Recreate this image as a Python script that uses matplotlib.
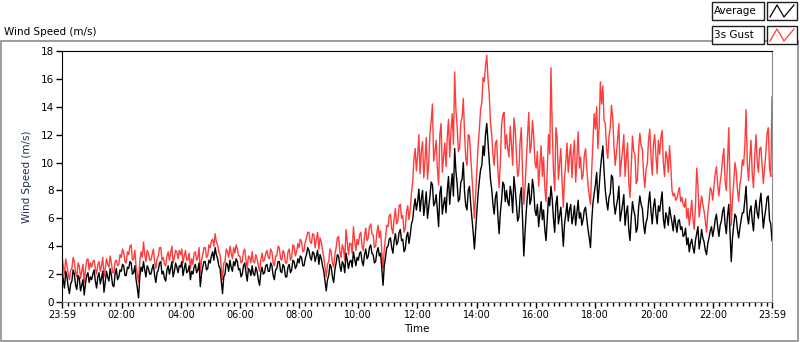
import matplotlib
matplotlib.use("Agg")
import matplotlib.pyplot as plt
import numpy as np
from matplotlib.lines import Line2D
from matplotlib.patches import Rectangle

# 2.5-minute values, one row per hour (23:59 -> 23:59)
average = [
    2.4, 1.6, 1.0, 2.2, 1.8, 1.1, 0.6, 1.3, 1.5, 2.3, 2.0, 1.2, 0.9, 1.9, 1.7, 0.8, 1.2, 1.6, 0.5, 1.3, 1.9, 2.1, 1.4, 1.8,
    1.6, 2.0, 2.3, 1.5, 1.0, 1.8, 2.1, 1.3, 1.7, 2.2, 0.7, 1.4, 2.2, 1.8, 1.5, 2.4, 1.9, 1.2, 1.1, 2.0, 2.4, 1.6, 1.8, 2.3,
    2.2, 2.7, 2.6, 1.9, 1.9, 2.5, 2.4, 2.9, 2.8, 2.0, 2.1, 2.6, 1.6, 1.0, 0.3, 1.8, 2.5, 2.2, 2.9, 2.3, 1.8, 2.6, 2.4, 2.0,
    2.0, 2.4, 2.7, 1.9, 1.4, 2.1, 2.3, 2.8, 2.9, 2.0, 2.2, 1.7, 1.5, 2.3, 2.6, 2.0, 2.4, 2.9, 1.8, 2.2, 2.8, 2.5, 2.1, 2.6,
    2.5, 2.9, 1.9, 2.4, 2.8, 2.1, 2.2, 2.6, 1.6, 2.2, 2.0, 2.5, 2.7, 2.1, 2.3, 2.8, 1.1, 2.0, 2.5, 2.9, 2.9, 2.3, 2.4, 3.0,
    2.8, 3.3, 3.6, 3.0, 3.9, 3.4, 3.1, 2.6, 2.4, 1.5, 0.6, 1.8, 2.0, 2.8, 2.7, 2.2, 3.0, 2.5, 2.2, 2.9, 2.6, 3.1, 2.9, 2.3,
    2.4, 1.8, 2.0, 2.6, 2.8, 2.1, 1.5, 2.4, 2.3, 1.9, 2.6, 2.0, 1.9, 2.5, 2.2, 1.6, 1.2, 2.1, 2.5, 2.0, 2.1, 2.6, 2.7, 2.2,
    2.2, 2.8, 2.6, 1.9, 1.6, 2.3, 2.4, 2.9, 2.9, 2.2, 2.1, 2.7, 2.5, 1.8, 1.8, 2.5, 2.7, 2.1, 2.3, 3.0, 2.9, 2.4, 2.6, 3.1,
    2.8, 3.3, 3.2, 2.6, 2.6, 3.1, 3.4, 3.9, 3.7, 3.2, 3.0, 3.6, 3.5, 2.9, 3.3, 3.7, 2.7, 3.4, 3.1, 2.6, 2.2, 1.5, 0.8, 1.6,
    1.9, 2.7, 2.5, 1.8, 1.4, 2.3, 2.8, 3.4, 3.3, 2.6, 2.2, 2.9, 2.7, 2.1, 3.5, 3.0, 2.4, 2.9, 3.0, 2.5, 3.6, 3.1, 2.6, 3.2,
    3.0, 3.5, 3.6, 2.9, 2.6, 3.4, 3.8, 3.1, 3.3, 3.9, 4.1, 3.5, 3.4, 2.8, 2.9, 3.6, 3.9, 3.3, 3.5, 2.4, 1.2, 2.6, 3.2, 3.9,
    4.0, 4.5, 4.6, 3.9, 3.5, 4.4, 4.9, 4.1, 4.3, 5.0, 5.2, 4.4, 4.5, 3.6, 3.8, 4.7, 5.0, 4.2, 4.8, 5.6, 5.9, 6.8, 7.4, 6.6,
    7.2, 8.1, 6.5, 7.4, 8.0, 6.2, 7.0, 7.9, 6.0, 6.8, 7.6, 8.6, 8.4, 6.9, 7.1, 7.7, 6.6, 5.4, 7.8, 8.3, 6.3, 7.0, 7.5, 6.4,
    8.0, 9.0, 7.0, 8.2, 9.2, 7.6, 11.0, 9.4, 8.5, 7.2, 7.4, 8.6, 8.8, 10.0, 7.9, 6.9, 6.6, 8.0, 8.3, 7.0, 6.0, 5.0, 3.8, 5.2,
    6.5, 7.8, 8.7, 9.5, 9.8, 11.2, 10.5, 12.0, 12.8, 11.5, 10.2, 8.8, 8.1, 7.0, 6.3, 7.5, 7.9, 6.2, 4.9, 6.4, 7.3, 8.6, 8.4, 7.2,
    8.0, 7.2, 6.9, 8.3, 7.7, 6.4, 9.0, 8.1, 7.0, 5.8, 6.1, 7.6, 8.2, 5.9, 3.3, 5.0, 6.5, 7.7, 8.5, 7.0, 7.4, 8.8, 8.1, 6.6,
    6.2, 7.0, 5.4, 6.3, 7.2, 5.9, 6.6, 5.2, 4.4, 6.0, 7.5, 6.9, 8.3, 7.4, 6.0, 5.0, 7.0, 7.6, 5.6, 6.2, 6.8, 5.4, 4.0, 5.6,
    6.3, 7.1, 5.8, 6.6, 7.0, 5.6, 6.1, 6.9, 5.5, 6.4, 7.3, 6.0, 6.4, 5.5, 5.9, 6.6, 6.8, 6.0, 5.2, 4.6, 3.9, 5.8, 7.1, 7.8,
    8.4, 9.3, 7.1, 8.2, 9.5, 10.4, 11.2, 9.4, 8.0, 7.2, 6.6, 7.5, 7.8, 9.1, 8.9, 7.1, 6.3, 6.9, 7.4, 8.3, 5.8, 6.4, 7.0, 7.7,
    5.5, 6.4, 6.9, 5.2, 4.4, 6.0, 7.2, 6.6, 6.2, 5.0, 5.3, 6.8, 7.6, 7.0, 6.7, 5.6, 4.9, 5.7, 6.0, 7.1, 7.9, 6.5, 5.6, 6.8,
    7.4, 6.3, 5.6, 6.9, 6.5, 7.2, 7.9, 6.0, 5.3, 6.4, 6.1, 5.5, 6.8, 6.2, 5.7, 5.1, 6.2, 5.6, 5.0, 5.8, 5.9, 5.2, 5.4, 4.7,
    4.8, 5.3, 4.1, 4.6, 3.6, 4.2, 4.5, 3.9, 3.5, 4.4, 4.9, 5.4, 3.8, 4.4, 5.2, 4.6, 4.3, 3.7, 3.4, 4.2, 4.6, 5.1, 5.4, 4.7,
    5.2, 5.9, 6.3, 5.4, 4.7, 5.5, 5.8, 6.5, 6.8, 5.6, 4.9, 6.2, 7.0, 5.0, 2.9, 4.6, 5.5, 6.3, 6.1, 5.2, 4.6, 5.3, 5.9, 6.4,
    6.4, 7.3, 8.3, 6.2, 5.6, 6.5, 6.9, 5.8, 5.1, 6.6, 7.3, 6.4, 6.0, 7.1, 7.8, 6.5, 5.3, 6.1, 6.7, 7.5, 7.6, 5.9, 5.6, 4.4,
]
gust_3s = [
    3.3, 2.6, 2.0, 3.1, 2.6, 2.0, 1.6, 2.3, 2.4, 3.2, 2.9, 2.1, 1.8, 2.8, 2.6, 1.7, 2.2, 2.7, 1.4, 2.3, 3.0, 3.1, 2.3, 2.8,
    2.5, 2.9, 3.0, 2.4, 2.0, 2.7, 2.9, 2.2, 2.6, 3.2, 1.8, 2.4, 3.1, 2.7, 2.5, 3.3, 2.8, 2.1, 2.1, 2.9, 3.0, 2.6, 2.7, 3.4,
    3.2, 3.8, 3.5, 2.9, 2.8, 3.6, 3.4, 4.0, 4.1, 3.0, 3.1, 3.7, 2.5, 2.0, 1.4, 2.9, 3.6, 3.2, 4.3, 3.4, 2.9, 3.7, 3.5, 3.0,
    3.0, 3.4, 3.8, 2.9, 2.4, 3.1, 3.3, 3.9, 3.9, 3.0, 3.2, 2.7, 2.6, 3.3, 3.6, 3.0, 3.5, 4.0, 2.8, 3.2, 3.7, 3.6, 3.1, 3.7,
    3.4, 3.8, 2.8, 3.3, 3.7, 3.0, 3.0, 3.5, 2.4, 3.1, 2.7, 3.5, 3.6, 3.0, 3.2, 3.9, 2.1, 3.0, 3.4, 3.9, 3.9, 3.2, 3.3, 4.1,
    3.9, 4.4, 4.5, 4.0, 4.9, 4.3, 4.1, 3.6, 3.4, 2.5, 1.6, 2.8, 2.9, 3.8, 3.6, 3.2, 4.0, 3.5, 3.1, 3.9, 3.5, 4.1, 3.8, 3.3,
    3.3, 2.8, 2.9, 3.6, 3.8, 3.0, 2.4, 3.3, 3.2, 2.8, 3.6, 2.9, 2.8, 3.4, 3.1, 2.6, 2.2, 3.0, 3.5, 2.9, 3.0, 3.5, 3.7, 3.2,
    3.1, 3.8, 3.6, 2.8, 2.6, 3.3, 3.3, 4.0, 3.9, 3.1, 3.0, 3.7, 3.5, 2.8, 2.8, 3.6, 3.8, 3.0, 3.2, 4.1, 4.0, 3.3, 3.6, 4.2,
    3.9, 4.5, 4.3, 3.6, 3.7, 4.3, 4.6, 5.0, 5.0, 4.3, 4.2, 4.9, 4.8, 3.9, 4.5, 5.0, 3.8, 4.6, 4.3, 3.7, 3.2, 2.5, 1.8, 2.7,
    2.9, 3.8, 3.6, 2.8, 2.5, 3.4, 3.9, 4.6, 4.7, 3.6, 3.2, 4.1, 3.8, 3.0, 5.2, 4.3, 3.4, 4.2, 4.2, 3.5, 5.4, 4.4, 3.7, 4.5,
    4.1, 4.8, 5.0, 4.0, 3.7, 4.7, 5.3, 4.4, 4.6, 5.4, 5.6, 4.9, 4.8, 3.9, 4.0, 5.0, 5.5, 4.6, 5.1, 3.6, 2.4, 3.8, 4.6, 5.5,
    5.4, 6.2, 6.3, 5.3, 4.9, 6.0, 6.7, 5.6, 5.8, 6.9, 7.0, 6.0, 6.2, 5.0, 5.3, 6.5, 6.9, 5.9, 6.6, 7.8, 8.6, 10.2, 11.0, 9.4,
    10.5, 12.0, 9.2, 10.8, 11.5, 8.9, 10.2, 11.8, 8.8, 10.0, 12.1, 13.0, 14.2, 10.1, 10.8, 11.6, 9.6, 8.4, 12.0, 12.8, 9.3, 10.4, 11.4, 9.7,
    11.8, 13.1, 10.4, 12.2, 13.5, 11.3, 16.5, 13.8, 12.6, 10.8, 11.0, 12.9, 13.2, 14.6, 12.1, 10.3, 9.8, 12.0, 11.9, 10.4, 9.0, 7.6, 6.0, 7.8,
    9.5, 11.2, 12.4, 13.8, 14.3, 16.1, 15.8, 16.9, 17.7, 16.0, 14.9, 12.9, 12.0, 10.6, 9.8, 11.4, 11.6, 9.5, 8.2, 10.0, 12.7, 13.4, 13.6, 11.0,
    12.0, 11.0, 10.4, 12.6, 11.3, 9.8, 13.2, 12.4, 10.6, 9.0, 9.4, 11.5, 12.5, 9.2, 7.0, 8.2, 10.1, 11.8, 13.6, 10.7, 11.2, 13.0, 11.9, 10.0,
    9.6, 10.8, 8.3, 9.8, 11.2, 9.0, 10.4, 8.2, 7.2, 9.4, 12.0, 10.6, 16.8, 12.5, 9.5, 8.0, 12.5, 11.8, 8.8, 9.9, 11.0, 8.6, 6.8, 8.9,
    10.0, 11.4, 9.3, 10.5, 11.3, 8.9, 10.6, 11.6, 8.6, 10.2, 12.2, 9.6, 10.4, 8.8, 9.1, 10.5, 11.0, 9.6, 8.4, 7.6, 7.0, 9.5, 11.5, 13.5,
    12.4, 14.0, 11.0, 12.5, 15.8, 14.2, 15.5, 13.0, 12.8, 11.0, 10.3, 11.9, 12.5, 14.1, 13.2, 11.2, 9.8, 10.7, 11.7, 12.8, 9.0, 10.1, 10.9, 12.0,
    9.0, 10.3, 11.4, 8.6, 7.5, 9.8, 11.9, 10.8, 10.6, 8.5, 8.7, 11.0, 12.1, 11.2, 11.0, 9.2, 8.2, 9.5, 9.9, 11.6, 12.4, 10.4, 9.1, 11.3,
    12.0, 10.5, 9.2, 11.6, 10.6, 11.8, 12.3, 10.0, 9.0, 10.8, 10.4, 9.3, 11.2, 9.8, 8.0, 7.6, 7.8, 7.3, 7.4, 7.9, 8.2, 7.2, 7.5, 7.0,
    6.8, 7.4, 6.0, 6.7, 5.5, 6.3, 7.3, 6.0, 5.2, 6.8, 9.6, 8.4, 6.1, 6.9, 7.6, 7.0, 6.5, 5.8, 5.0, 6.4, 7.2, 8.2, 8.0, 7.3,
    8.3, 9.2, 9.7, 8.4, 7.6, 8.6, 9.2, 10.3, 11.0, 8.7, 8.0, 10.1, 12.5, 8.2, 5.5, 7.4, 8.6, 10.0, 9.4, 8.1, 7.2, 8.4, 9.0, 10.2,
    9.8, 11.2, 13.8, 9.9, 8.7, 10.3, 11.6, 9.2, 8.2, 10.4, 12.0, 10.1, 9.3, 11.0, 11.1, 9.8, 8.5, 9.6, 10.7, 12.1, 12.5, 9.6, 9.0, 14.7,
]
time_labels = ["23:59", "02:00", "04:00", "06:00", "08:00", "10:00", "12:00",
               "14:00", "16:00", "18:00", "20:00", "22:00", "23:59"]
tick_minutes = [0, 121, 241, 361, 481, 601, 721, 841, 961, 1081, 1201, 1321, 1440]
y_ticks = [0, 2, 4, 6, 8, 10, 12, 14, 16, 18]

FONT = "DejaVu Sans"
GUST_RED = "#ff3c3c"

fig = plt.figure(figsize=(8.0, 3.42), dpi=100)
ax = fig.add_axes([62 / 800, 40 / 342, 710 / 800, 251 / 342])

minutes = np.linspace(0, 1440, len(average))
ax.plot(minutes, gust_3s, color=GUST_RED, lw=1.0)
ax.plot(minutes, average, color="black", lw=1.0)

ax.set_xlim(0, 1440)
ax.set_ylim(0, 18)
ax.set_xticks(tick_minutes)
ax.set_xticklabels(time_labels, fontsize=7, family=FONT)
ax.set_xticks(np.arange(13, 1440, 12), minor=True)
ax.set_yticks(y_ticks)
ax.set_yticklabels([str(v) for v in y_ticks], fontsize=7.5, family=FONT)
ax.tick_params(axis="both", which="major", length=4, width=1, pad=2)
ax.tick_params(axis="x", which="minor", length=3, width=1)

for side in ("left", "top"):
    ax.spines[side].set_color("black")
for side in ("bottom", "right"):
    ax.spines[side].set_color("#8c8c8c")

ax.set_xlabel("Time", fontsize=7.5, family=FONT, labelpad=3)
ax.set_ylabel("Wind Speed (m/s)", fontsize=7.5, family=FONT, color="#1c2f55", labelpad=6)

# outer panel frame and title
fig.patches.append(Rectangle((1 / 800, 1 / 342), 797 / 800, 300 / 342, transform=fig.transFigure,
                             fill=False, edgecolor="#8c8c8c", lw=1.2))
fig.text(4 / 800, 1 - 32 / 342, "Wind Speed (m/s)", fontsize=7.5, family=FONT, va="center")

# legend in LabVIEW style
legend_rows = [("Average", "black", 11), ("3s Gust", GUST_RED, 35)]
for name, color, yc in legend_rows:
    y0 = 1 - (yc + 9) / 342
    h = 18 / 342
    fig.patches.append(Rectangle((712 / 800, y0), 52 / 800, h, transform=fig.transFigure,
                                 facecolor="white", edgecolor="#202020", lw=1.0))
    fig.text(714 / 800, 1 - yc / 342, name, fontsize=7.5, family=FONT, va="center")
    fig.patches.append(Rectangle((767 / 800, y0), 30 / 800, h, transform=fig.transFigure,
                                 facecolor="white", edgecolor="#202020", lw=1.0))
    zx = np.array([770, 777, 784, 794]) / 800
    zy = 1 - (yc + np.array([6, -6, 6, -6])) / 342
    fig.lines.append(Line2D(zx, zy, transform=fig.transFigure, color=color, lw=0.9))

fig.savefig("out.png", dpi=100)
